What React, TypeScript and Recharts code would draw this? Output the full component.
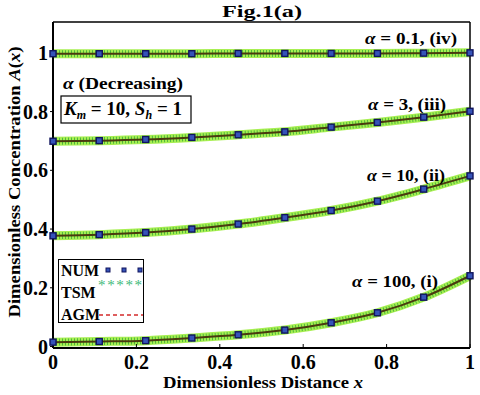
import React from 'react';
import { LineChart, Line, XAxis, YAxis, Legend } from 'recharts';

// distance points (x = k/9)
const distance = [0, 0.111, 0.222, 0.333, 0.444, 0.556, 0.667, 0.778, 0.889, 1];

// concentration A(x) for each alpha
const alpha100 = [0.015, 0.017, 0.020, 0.029, 0.040, 0.056, 0.081, 0.115, 0.168, 0.241];
const alpha10 = [0.377, 0.381, 0.388, 0.400, 0.417, 0.439, 0.463, 0.495, 0.536, 0.581];
const alpha3 = [0.699, 0.701, 0.705, 0.712, 0.721, 0.731, 0.747, 0.763, 0.781, 0.801];
const alpha01 = [0.997, 0.997, 0.997, 0.997, 0.998, 0.998, 0.998, 0.998, 0.999, 1.0];

const xTicks = [0, 0.2, 0.4, 0.6, 0.8, 1];
const yTicks = [0, 0.2, 0.4, 0.6, 0.8, 1];

const seriesKeys = ['a100', 'a10', 'a3', 'a01'];

const data = distance.map((x, i) => ({
  x,
  a100: alpha100[i],
  a10: alpha10[i],
  a3: alpha3[i],
  a01: alpha01[i],
}));

const SERIF = '"Liberation Serif", "Times New Roman", serif';

const squareDot = (props: any) => {
  const { cx, cy, index, dataKey } = props;
  if (cx == null || cy == null) return <g key={`${dataKey}-${index}`} />;
  return (
    <rect
      key={`${dataKey}-${index}`}
      x={cx - 3}
      y={cy - 3}
      width={6}
      height={6}
      fill="#3553b8"
      stroke="#10155e"
      strokeWidth={1.4}
    />
  );
};

const renderLegend = () => (
  <div
    style={{
      width: 86,
      height: 64,
      boxSizing: 'border-box',
      border: '1px solid #000',
      background: '#fff',
    }}
  >
    <svg width={84} height={62} style={{ display: 'block' }}>
      <g fontFamily={SERIF} fontWeight="bold" fontSize={16} fill="#000">
        <text x={2} y={16}>NUM</text>
        <text x={2} y={38}>TSM</text>
        <text x={2} y={60}>AGM</text>
      </g>
      {[49, 65, 81].map((cx) => (
        <rect key={cx} x={cx - 2} y={8} width={4} height={4} fill="#3553b8" stroke="#10155e" />
      ))}
      <text x={39} y={30} fontFamily={SERIF} fontSize={15} fill="#3cb878" textLength={44}>
        *****
      </text>
      <line x1={40} y1={55} x2={84} y2={55} stroke="#d42a2a" strokeWidth={1.6} strokeDasharray="4 3" />
    </svg>
  </div>
);

const Overlay = () => (
  <svg
    width={480}
    height={395}
    style={{ position: 'absolute', left: 0, top: 0, pointerEvents: 'none' }}
  >
    <g fontFamily={SERIF} fontWeight="bold" fill="#000">
      <text x={262} y={17} fontSize={16} textAnchor="middle" textLength={80} lengthAdjust="spacingAndGlyphs">
        Fig.1(a)
      </text>

      <text x={365} y={44} fontSize={16} textLength={92} lengthAdjust="spacingAndGlyphs">
        <tspan fontStyle="italic">α</tspan> = 0.1, (iv)
      </text>
      <text x={368} y={110} fontSize={16} textLength={78} lengthAdjust="spacingAndGlyphs">
        <tspan fontStyle="italic">α</tspan> = 3, (iii)
      </text>
      <text x={367} y={181} fontSize={16} textLength={78} lengthAdjust="spacingAndGlyphs">
        <tspan fontStyle="italic">α</tspan> = 10, (ii)
      </text>
      <text x={352} y={287} fontSize={16} textLength={86} lengthAdjust="spacingAndGlyphs">
        <tspan fontStyle="italic">α</tspan> = 100, (i)
      </text>

      <text x={63} y={89} fontSize={17} textLength={120} lengthAdjust="spacingAndGlyphs">
        <tspan fontStyle="italic">α</tspan> (Decreasing)
      </text>
      <rect x={61} y={96} width={130} height={27} fill="#fff" stroke="#000" strokeWidth={1.2} />
      <text x={64} y={115} fontSize={19}>
        <tspan fontStyle="italic">K</tspan>
        <tspan fontStyle="italic" fontSize={12} dy={4}>m</tspan>
        <tspan dy={-4}>{' = 10, '}</tspan>
        <tspan fontStyle="italic">S</tspan>
        <tspan fontStyle="italic" fontSize={12} dy={4}>h</tspan>
        <tspan dy={-4}>{' = 1'}</tspan>
      </text>

      <text x={263} y={388} fontSize={17} textAnchor="middle" textLength={200} lengthAdjust="spacingAndGlyphs">
        Dimensionless Distance <tspan fontStyle="italic">x</tspan>
      </text>
      <text
        transform="translate(20,182) rotate(-90)"
        fontSize={17}
        textAnchor="middle"
        textLength={271}
        lengthAdjust="spacingAndGlyphs"
      >
        Dimensionless Concentration <tspan fontStyle="italic">A</tspan>(<tspan fontStyle="italic">x</tspan>)
      </text>
    </g>
  </svg>
);

const tickStyle = { fontFamily: SERIF, fontWeight: 'bold', fontSize: 20, fill: '#000' };

export default function App() {
  return (
    <div style={{ position: 'absolute', left: 0, top: 0, width: 480, height: 395, background: '#fff' }}>
      <LineChart width={480} height={395} data={data} margin={{ top: 22, right: 10, bottom: 7, left: 0 }}>
        <XAxis
          xAxisId={0}
          dataKey="x"
          type="number"
          domain={[0, 1]}
          ticks={xTicks}
          tick={tickStyle}
          tickSize={-4}
          tickMargin={11}
          height={40}
          axisLine={{ stroke: '#000', strokeWidth: 2 }}
          tickLine={{ stroke: '#000' }}
        />
        <XAxis
          xAxisId="top"
          dataKey="x"
          type="number"
          orientation="top"
          mirror
          domain={[0, 1]}
          ticks={xTicks}
          tick={false}
          tickSize={4}
          axisLine={{ stroke: '#000', strokeWidth: 1.5 }}
          tickLine={{ stroke: '#000' }}
        />
        <YAxis
          yAxisId={0}
          type="number"
          domain={[-0.005, 1.105]}
          ticks={yTicks}
          tick={tickStyle}
          tickSize={3}
          tickMargin={2}
          width={53}
          allowDataOverflow
          axisLine={{ stroke: '#000', strokeWidth: 2 }}
          tickLine={{ stroke: '#000' }}
        />
        <YAxis
          yAxisId="right"
          type="number"
          orientation="right"
          mirror
          domain={[-0.005, 1.105]}
          ticks={yTicks}
          tick={false}
          tickSize={4}
          allowDataOverflow
          axisLine={{ stroke: '#000', strokeWidth: 1.5 }}
          tickLine={{ stroke: '#000' }}
        />

        {/* TSM: dense green asterisks, drawn as a textured band */}
        {seriesKeys.map((k) => (
          <Line
            key={`tsm-${k}`}
            dataKey={k}
            type="monotone"
            stroke="#a8ef52"
            strokeWidth={9}
            dot={false}
            isAnimationActive={false}
            legendType="none"
          />
        ))}
        {seriesKeys.map((k) => (
          <Line
            key={`tsm2-${k}`}
            dataKey={k}
            type="monotone"
            stroke="#4cb83c"
            strokeWidth={7}
            strokeDasharray="1 2"
            dot={false}
            isAnimationActive={false}
            legendType="none"
          />
        ))}
        {/* AGM */}
        {seriesKeys.map((k) => (
          <Line
            key={`agm-${k}`}
            dataKey={k}
            type="monotone"
            stroke="#4a3a0e"
            strokeWidth={2}
            dot={false}
            isAnimationActive={false}
            legendType="none"
          />
        ))}
        {/* NUM */}
        {seriesKeys.map((k) => (
          <Line
            key={`num-${k}`}
            dataKey={k}
            type="monotone"
            stroke="none"
            dot={squareDot}
            isAnimationActive={false}
            legendType="none"
          />
        ))}

        <Legend
          layout="horizontal"
          align="center"
          verticalAlign="middle"
          content={renderLegend}
          wrapperStyle={{ left: 58, top: 259, width: 86, height: 64 }}
        />
      </LineChart>
      <Overlay />
    </div>
  );
}
